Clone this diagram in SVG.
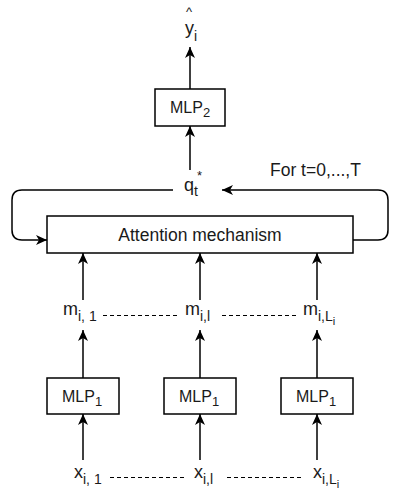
<svg xmlns="http://www.w3.org/2000/svg" width="402" height="503" viewBox="0 0 402 503">
<defs>
<marker id="ah" markerUnits="userSpaceOnUse" markerWidth="13" markerHeight="11" refX="11" refY="5" orient="auto">
<path d="M0,0 L11,5 L0,10 L3,5 Z" fill="#000"/>
</marker>
<style>
.box{fill:#fff;stroke:#000;stroke-width:1.5}
.ar{fill:none;stroke:#000;stroke-width:1.5;marker-end:url(#ah)}
.ds{fill:none;stroke:#000;stroke-width:1.2;stroke-dasharray:4 3}
text{font-family:"Liberation Sans",Arial,sans-serif;fill:#1a1a1a}
.lb{font-size:18px}
.mlp{font-size:16px}
.sub{font-size:14px}
.msub{font-size:13px}
.att{font-size:17.5px}
</style>
</defs>
<g id="connectors">
<line class="ar" x1="190" y1="89" x2="190" y2="47"/>
<line class="ar" x1="190" y1="170" x2="190" y2="126"/>
<path class="ar" d="M173,190 H22 Q12,190 12,200 V230 Q12,240 22,240 H47"/>
<path class="ar" d="M353,240 H378 Q388,240 388,230 V200 Q388,190 378,190 H222"/>
<line class="ar" x1="83" y1="300" x2="83" y2="253"/>
<line class="ar" x1="200" y1="300" x2="200" y2="253"/>
<line class="ar" x1="317" y1="300" x2="317" y2="253"/>
<line class="ar" x1="83" y1="378" x2="83" y2="330"/>
<line class="ar" x1="200" y1="378" x2="200" y2="330"/>
<line class="ar" x1="317" y1="378" x2="317" y2="330"/>
<line class="ar" x1="83" y1="460" x2="83" y2="414"/>
<line class="ar" x1="200" y1="460" x2="200" y2="414"/>
<line class="ar" x1="317" y1="460" x2="317" y2="414"/>
<line class="ds" x1="103" y1="315.5" x2="178" y2="315.5"/>
<line class="ds" x1="222" y1="315.5" x2="296" y2="315.5"/>
<line class="ds" x1="110" y1="477.5" x2="186" y2="477.5"/>
<line class="ds" x1="227" y1="477.5" x2="302" y2="477.5"/>
</g>
<g id="yhat">
<text x="186" y="16" font-size="13">^</text>
<text class="lb" x="185" y="34">y<tspan class="sub" dy="7">i</tspan></text>
</g>
<g id="mlp2">
<rect class="box" x="155" y="89" width="70" height="37"/>
<text class="mlp" x="170" y="113">MLP<tspan class="msub" dy="4">2</tspan></text>
</g>
<g id="qt">
<text class="lb" x="184" y="191">q<tspan class="sub" dy="5">t</tspan><tspan class="msub" dx="-1" dy="-16">*</tspan></text>
</g>
<g id="loop-label">
<text x="270" y="176" font-size="17.5">For t=0,...,T</text>
</g>
<g id="attention">
<rect class="box" x="47" y="216" width="306" height="37"/>
<text class="att" x="200" y="241" text-anchor="middle">Attention mechanism</text>
</g>
<g id="m1"><text class="lb" x="63" y="315">m<tspan class="sub" dy="6">i, 1</tspan></text></g>
<g id="ml"><text class="lb" x="185" y="315">m<tspan class="sub" dy="6">i,l</tspan></text></g>
<g id="mL"><text class="lb" x="303" y="315">m<tspan class="sub" dy="6">i,L</tspan><tspan font-size="11" dy="4">i</tspan></text></g>
<g id="mlp1a">
<rect class="box" x="47" y="378" width="72" height="36"/>
<text class="mlp" x="62" y="402">MLP<tspan class="msub" dy="4">1</tspan></text>
</g>
<g id="mlp1b">
<rect class="box" x="164" y="378" width="72" height="36"/>
<text class="mlp" x="179" y="402">MLP<tspan class="msub" dy="4">1</tspan></text>
</g>
<g id="mlp1c">
<rect class="box" x="281" y="378" width="72" height="36"/>
<text class="mlp" x="296" y="402">MLP<tspan class="msub" dy="4">1</tspan></text>
</g>
<g id="x1"><text class="lb" x="74" y="478">x<tspan class="sub" dy="6">i, 1</tspan></text></g>
<g id="xl"><text class="lb" x="194" y="478">x<tspan class="sub" dy="6">i,l</tspan></text></g>
<g id="xL"><text class="lb" x="313" y="478">x<tspan class="sub" dy="6">i,L</tspan><tspan font-size="11" dy="4">i</tspan></text></g>
</svg>
